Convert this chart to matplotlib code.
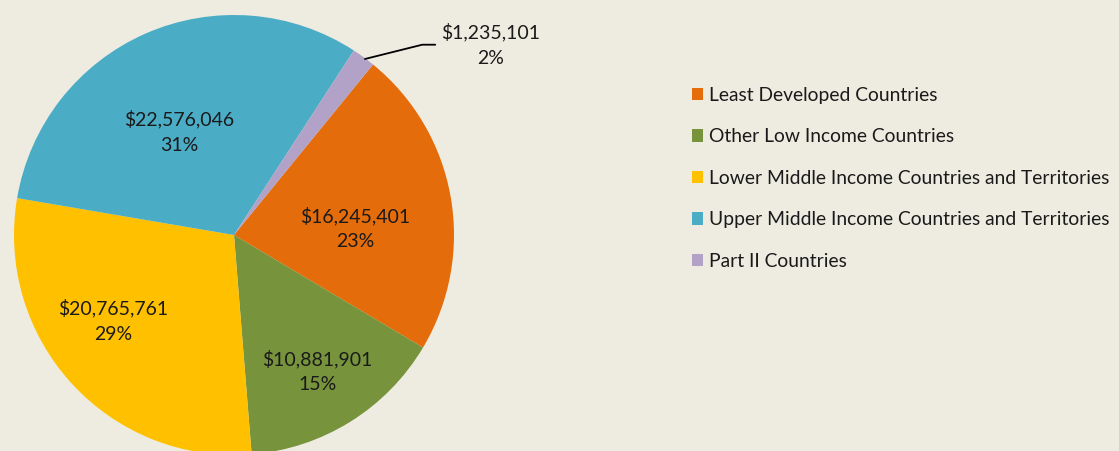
import numpy as np
import matplotlib
matplotlib.use("Agg")
import matplotlib.pyplot as plt

categories = ["Least Developed Countries", "Other Low Income Countries",
              "Lower Middle Income Countries and Territories",
              "Upper Middle Income Countries and Territories", "Part II Countries"]
values = [16245401, 10881901, 20765761, 22576046, 1235101]
colors = ["#E46C0A", "#77933C", "#FFC000", "#4BACC6", "#B2A2C7"]
BG = "#EEECE1"

plt.rcParams["font.family"] = ["Lato", "DejaVu Sans"]

W, H = 1119, 451
fig = plt.figure(figsize=(W / 100, H / 100), dpi=100, facecolor=BG)
cx, cy, r = 234, 235, 220
ax = fig.add_axes([(cx - r) / W, (H - cy - r) / H, 2 * r / W, 2 * r / H])
ax.set_facecolor(BG)

wedges, _ = ax.pie(values, colors=colors, startangle=50.8, counterclock=False,
                   radius=1, wedgeprops=dict(linewidth=0))
ax.set_xlim(-1, 1); ax.set_ylim(-1, 1)
ax.set_aspect("equal")
ax.axis("off")

total = sum(values)
pcts = [round(v / total * 100) for v in values]
labels = [f"${v:,}\n{p}%" for v, p in zip(values, pcts)]

# label positions in data coords (pie radius 1)
label_pos = [(0.55, 0.03), (0.38, -0.62), (-0.55, -0.39), (-0.25, 0.47)]
for (x, y), lab in zip(label_pos, labels[:4]):
    ax.text(x, y, lab, ha="center", va="center", fontsize=14, color="#1a1a1a",
            linespacing=1.6)

# Part II label outside with leader line
ax.annotate(labels[4], xy=(0.595, 0.8), xytext=(1.165, 0.865),
            ha="center", va="center", fontsize=14, color="#1a1a1a",
            linespacing=1.6, annotation_clip=False,
            arrowprops=dict(arrowstyle="-", color="black", lw=1.3,
                            connectionstyle="angle,angleA=0,angleB=14,rad=0",
                            shrinkA=2, shrinkB=0,
                            relpos=(0.0, 0.5)))

leg = fig.legend(wedges, categories, loc="upper left",
                 bbox_to_anchor=(684 / W, 1 - 79 / H), frameon=False,
                 fontsize=13.9, handlelength=0.6, handleheight=0.6,
                 handletextpad=0.3, labelspacing=1.27, borderaxespad=0)
for t in leg.get_texts():
    t.set_color("#1a1a1a")

fig.savefig("out.png", dpi=100, facecolor=BG)
